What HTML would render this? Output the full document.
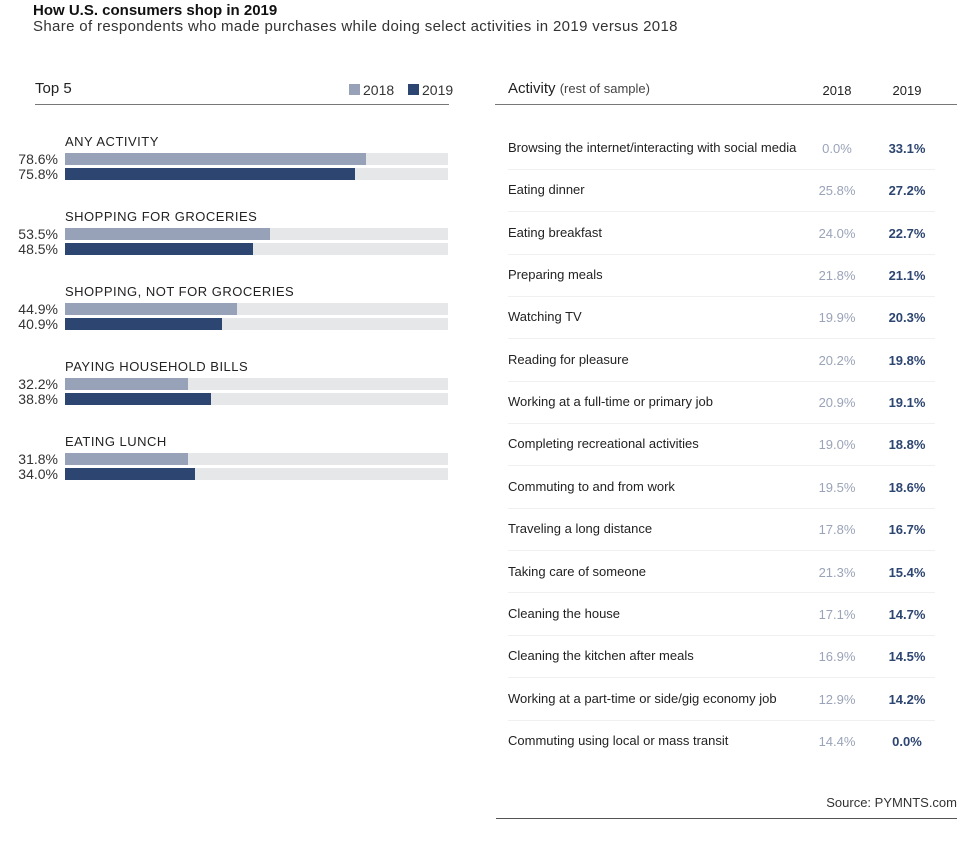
<!DOCTYPE html><html><head><meta charset="utf-8"><style>
body{margin:0;width:974px;height:841px;background:#fff;font-family:"Liberation Sans",sans-serif;color:#222;position:relative;overflow:hidden}
div{position:absolute;white-space:nowrap}
.t{font-size:13px;line-height:16px}
.p{font-size:14px;line-height:14px;width:50px;text-align:right;left:8px;color:#333}
.trk{left:65px;width:383px;height:12px;background:#e6e7e9}
.b1{left:65px;height:12px;background:#97a2b9}
.b2{left:65px;height:12px;background:#2d4571}
.gl{font-size:13px;left:65px;letter-spacing:.5px;color:#222}
.v1{left:808px;width:58px;text-align:center;color:#9aa3b8}
.v2{left:878px;width:58px;text-align:center;color:#2d4571;font-weight:bold}
.sep{left:508px;width:427px;height:1px;background:#f0f0f0}
</style></head><body>
<div style="left:33px;top:2px;font-size:15px;font-weight:bold;color:#111">How U.S. consumers shop in 2019</div>
<div style="left:33px;top:18px;font-size:15px;letter-spacing:0.35px;color:#333">Share of respondents who made purchases while doing select activities in 2019 versus 2018</div>
<div style="left:35px;top:80px;font-size:15px">Top 5</div>
<div style="left:349px;top:84px;width:11px;height:11px;background:#97a2b9"></div>
<div style="left:363px;top:82px;font-size:14px;color:#333">2018</div>
<div style="left:408px;top:84px;width:11px;height:11px;background:#2d4571"></div>
<div style="left:422px;top:82px;font-size:14px;color:#333">2019</div>
<div style="left:35px;top:104px;width:414px;height:1px;background:#777"></div>

<div class="gl" style="top:134px">ANY ACTIVITY</div>
<div class="trk" style="top:153px"></div><div class="b1" style="top:153px;width:301px"></div>
<div class="trk" style="top:168px"></div><div class="b2" style="top:168px;width:290px"></div>
<div class="p" style="top:152px">78.6%</div><div class="p" style="top:167px">75.8%</div>

<div class="gl" style="top:209px">SHOPPING FOR GROCERIES</div>
<div class="trk" style="top:228px"></div><div class="b1" style="top:228px;width:205px"></div>
<div class="trk" style="top:243px"></div><div class="b2" style="top:243px;width:188px"></div>
<div class="p" style="top:227px">53.5%</div><div class="p" style="top:242px">48.5%</div>

<div class="gl" style="top:284px">SHOPPING, NOT FOR GROCERIES</div>
<div class="trk" style="top:303px"></div><div class="b1" style="top:303px;width:172px"></div>
<div class="trk" style="top:318px"></div><div class="b2" style="top:318px;width:157px"></div>
<div class="p" style="top:302px">44.9%</div><div class="p" style="top:317px">40.9%</div>

<div class="gl" style="top:359px">PAYING HOUSEHOLD BILLS</div>
<div class="trk" style="top:378px"></div><div class="b1" style="top:378px;width:123px"></div>
<div class="trk" style="top:393px"></div><div class="b2" style="top:393px;width:146px"></div>
<div class="p" style="top:377px">32.2%</div><div class="p" style="top:392px">38.8%</div>

<div class="gl" style="top:434px">EATING LUNCH</div>
<div class="trk" style="top:453px"></div><div class="b1" style="top:453px;width:123px"></div>
<div class="trk" style="top:468px"></div><div class="b2" style="top:468px;width:130px"></div>
<div class="p" style="top:452px">31.8%</div><div class="p" style="top:467px">34.0%</div>

<div style="left:508px;top:80px;font-size:15px">Activity <span style="font-size:13px;color:#444">(rest of sample)</span></div>
<div style="left:808px;top:83px;width:58px;text-align:center;font-size:13px">2018</div>
<div style="left:878px;top:83px;width:58px;text-align:center;font-size:13px">2019</div>
<div style="left:495px;top:104px;width:462px;height:1px;background:#777"></div>

<div class="t" style="left:508px;top:140px">Browsing the internet/interacting with social media</div><div class="t v1" style="top:141px">0.0%</div><div class="t v2" style="top:141px">33.1%</div><div class="sep" style="top:169px"></div>
<div class="t" style="left:508px;top:182px">Eating dinner</div><div class="t v1" style="top:183px">25.8%</div><div class="t v2" style="top:183px">27.2%</div><div class="sep" style="top:211px"></div>
<div class="t" style="left:508px;top:225px">Eating breakfast</div><div class="t v1" style="top:226px">24.0%</div><div class="t v2" style="top:226px">22.7%</div><div class="sep" style="top:254px"></div>
<div class="t" style="left:508px;top:267px">Preparing meals</div><div class="t v1" style="top:268px">21.8%</div><div class="t v2" style="top:268px">21.1%</div><div class="sep" style="top:296px"></div>
<div class="t" style="left:508px;top:309px">Watching TV</div><div class="t v1" style="top:310px">19.9%</div><div class="t v2" style="top:310px">20.3%</div><div class="sep" style="top:338px"></div>
<div class="t" style="left:508px;top:352px">Reading for pleasure</div><div class="t v1" style="top:353px">20.2%</div><div class="t v2" style="top:353px">19.8%</div><div class="sep" style="top:381px"></div>
<div class="t" style="left:508px;top:394px">Working at a full-time or primary job</div><div class="t v1" style="top:395px">20.9%</div><div class="t v2" style="top:395px">19.1%</div><div class="sep" style="top:423px"></div>
<div class="t" style="left:508px;top:436px">Completing recreational activities</div><div class="t v1" style="top:437px">19.0%</div><div class="t v2" style="top:437px">18.8%</div><div class="sep" style="top:465px"></div>
<div class="t" style="left:508px;top:479px">Commuting to and from work</div><div class="t v1" style="top:480px">19.5%</div><div class="t v2" style="top:480px">18.6%</div><div class="sep" style="top:508px"></div>
<div class="t" style="left:508px;top:521px">Traveling a long distance</div><div class="t v1" style="top:522px">17.8%</div><div class="t v2" style="top:522px">16.7%</div><div class="sep" style="top:550px"></div>
<div class="t" style="left:508px;top:564px">Taking care of someone</div><div class="t v1" style="top:565px">21.3%</div><div class="t v2" style="top:565px">15.4%</div><div class="sep" style="top:592px"></div>
<div class="t" style="left:508px;top:606px">Cleaning the house</div><div class="t v1" style="top:607px">17.1%</div><div class="t v2" style="top:607px">14.7%</div><div class="sep" style="top:635px"></div>
<div class="t" style="left:508px;top:648px">Cleaning the kitchen after meals</div><div class="t v1" style="top:649px">16.9%</div><div class="t v2" style="top:649px">14.5%</div><div class="sep" style="top:677px"></div>
<div class="t" style="left:508px;top:691px">Working at a part-time or side/gig economy job</div><div class="t v1" style="top:692px">12.9%</div><div class="t v2" style="top:692px">14.2%</div><div class="sep" style="top:720px"></div>
<div class="t" style="left:508px;top:733px">Commuting using local or mass transit</div><div class="t v1" style="top:734px">14.4%</div><div class="t v2" style="top:734px">0.0%</div>

<div style="left:780px;top:795px;width:177px;text-align:right;font-size:13px;color:#333">Source: PYMNTS.com</div>
<div style="left:496px;top:818px;width:461px;height:1px;background:#555"></div>
</body></html>
